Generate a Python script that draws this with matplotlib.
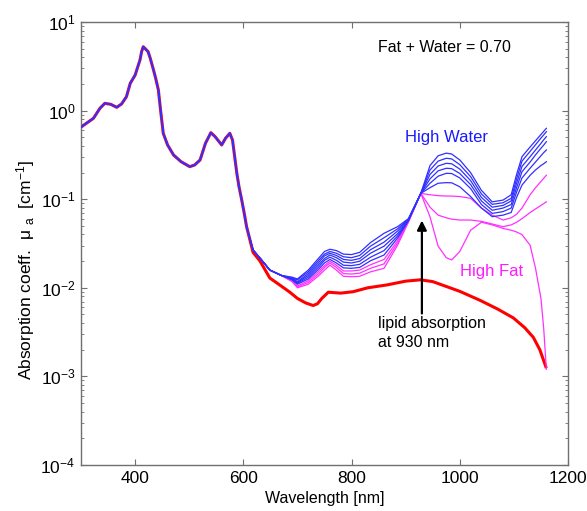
import numpy as np
import matplotlib
matplotlib.use("Agg")
import matplotlib.pyplot as plt
from matplotlib.ticker import NullLocator, LogLocator

plt.rcParams['font.family'] = ['Liberation Sans', 'DejaVu Sans']
plt.rcParams['mathtext.fontset'] = 'custom'
plt.rcParams['mathtext.rm'] = 'Liberation Sans'
plt.rcParams['mathtext.it'] = 'Liberation Sans:italic'
plt.rcParams['mathtext.default'] = 'regular'

# log10(mu_a)
# visible part, shared by every curve (red included)
wl_vis = [301, 310, 323, 335, 344, 355, 366, 375, 384, 391, 400, 404, 409,
          412, 415, 418, 424, 428, 434, 438, 443, 447, 452, 460, 471, 485,
          501, 510, 520, 530, 540, 548, 560, 567, 575, 580, 588, 592, 597,
          602, 606]
log_mu_vis = [-0.182, -0.143, -0.087, 0.026, 0.082, 0.071, 0.037, 0.075, 0.157,
              0.308, 0.40, 0.477, 0.571, 0.665, 0.721, 0.703, 0.665, 0.59,
              0.458, 0.365, 0.232, 0.007, -0.256, -0.388, -0.501, -0.577,
              -0.633, -0.614, -0.558, -0.369, -0.249, -0.295, -0.388, -0.313,
              -0.256, -0.332, -0.708, -0.859, -1.009, -1.17, -1.310]

# fat/water family: shared stretch, then one row per curve (high water -> high fat)
wl_fam_shared = [618, 631, 649, 670]
log_mu_fam_shared = [-1.574, -1.667, -1.80, -1.86]

wl_nir = [690, 700, 720, 740, 750, 760, 772, 785, 800, 815,
          835, 860, 885, 905, 928, 945, 960, 975, 985, 1000,
          1020, 1040, 1060, 1080, 1095, 1105, 1115, 1130, 1140, 1150,
          1155, 1160]
log_mu_nir = [
    [-1.88, -1.90, -1.80, -1.66, -1.59, -1.565, -1.58, -1.62, -1.625, -1.60,
     -1.49, -1.385, -1.31, -1.22, -0.934, -0.62, -0.51, -0.48, -0.49, -0.557,
     -0.70, -0.90, -1.03, -1.01, -0.95, -0.72, -0.52, -0.41, -0.34, -0.27,
     -0.235, -0.20],
    [-1.89, -1.91, -1.82, -1.685, -1.62, -1.59, -1.61, -1.65, -1.66, -1.635,
     -1.53, -1.435, -1.335, -1.225, -0.934, -0.67, -0.57, -0.538, -0.545, -0.61,
     -0.745, -0.94, -1.058, -1.04, -0.99, -0.77, -0.57, -0.46, -0.385, -0.31,
     -0.275, -0.238],
    [-1.89, -1.93, -1.84, -1.71, -1.64, -1.61, -1.635, -1.68, -1.69, -1.67,
     -1.57, -1.485, -1.36, -1.23, -0.934, -0.72, -0.625, -0.595, -0.60, -0.66,
     -0.79, -0.98, -1.09, -1.07, -1.02, -0.82, -0.63, -0.52, -0.445, -0.37,
     -0.33, -0.294],
    [-1.90, -1.94, -1.86, -1.735, -1.67, -1.63, -1.66, -1.71, -1.72, -1.70,
     -1.61, -1.53, -1.39, -1.235, -0.934, -0.77, -0.68, -0.651, -0.655, -0.71,
     -0.835, -1.02, -1.125, -1.10, -1.06, -0.87, -0.69, -0.58, -0.50, -0.425,
     -0.39, -0.351],
    [-1.90, -1.95, -1.88, -1.76, -1.69, -1.655, -1.69, -1.745, -1.75, -1.735,
     -1.655, -1.58, -1.415, -1.24, -0.934, -0.82, -0.74, -0.708, -0.71, -0.76,
     -0.88, -1.06, -1.16, -1.14, -1.10, -0.92, -0.76, -0.65, -0.58, -0.51,
     -0.475, -0.444],
    [-1.91, -1.96, -1.90, -1.785, -1.72, -1.68, -1.72, -1.775, -1.78, -1.77,
     -1.695, -1.63, -1.44, -1.245, -0.934, -0.87, -0.82, -0.813, -0.815, -0.86,
     -0.97, -1.10, -1.197, -1.18, -1.15, -0.98, -0.84, -0.73, -0.67, -0.62,
     -0.60, -0.577],
    [-1.92, -1.98, -1.92, -1.81, -1.75, -1.70, -1.745, -1.81, -1.81, -1.80,
     -1.74, -1.68, -1.47, -1.25, -0.934, -0.95, -0.96, -0.964, -0.965, -0.97,
     -0.99, -1.10, -1.18, -1.235, -1.21, -1.17, -1.10, -0.95, -0.87, -0.80,
     -0.765, -0.73],
    [-1.92, -1.99, -1.94, -1.835, -1.77, -1.72, -1.77, -1.84, -1.845, -1.835,
     -1.78, -1.73, -1.495, -1.255, -0.934, -1.09, -1.18, -1.21, -1.225, -1.235,
     -1.235, -1.25, -1.28, -1.31, -1.29, -1.26, -1.22, -1.15, -1.11, -1.07,
     -1.05, -1.03],
    [-1.93, -2.00, -1.96, -1.86, -1.80, -1.745, -1.80, -1.87, -1.875, -1.87,
     -1.82, -1.78, -1.52, -1.26, -0.934, -1.20, -1.53, -1.66, -1.686, -1.59,
     -1.35, -1.26, -1.29, -1.33, -1.35, -1.37, -1.40, -1.52, -1.78, -2.12,
     -2.45, -2.92],
]
fam_colors = ['#3030ff'] * 6 + ['#ff30ff'] * 3

# lipid curve, after it leaves the shared visible part
wl_red_tail = [618, 631, 649, 670, 686, 700, 715, 729, 737, 745, 757, 780,
               803, 830, 865, 900, 927, 950, 976, 1000, 1037, 1070, 1099,
               1120, 1136, 1148, 1159]
log_mu_red_tail = [-1.60, -1.70, -1.89, -1.98, -2.05, -2.12, -2.17, -2.20,
                   -2.18, -2.12, -2.05, -2.06, -2.044, -2.00, -1.968, -1.925,
                   -1.91, -1.93, -1.987, -2.04, -2.14, -2.24, -2.34, -2.45,
                   -2.56, -2.70, -2.89]

fig = plt.figure(figsize=(5.87, 5.11), dpi=100)
ax = fig.add_axes([81 / 587, 1 - 465 / 511, 487 / 587, 443 / 511])

# red lipid curve underneath
red_wl = np.array(wl_vis + wl_red_tail)
red_mu = 10 ** np.array(log_mu_vis + log_mu_red_tail)
ax.plot(red_wl, red_mu, color='#ff0000', lw=2.2, zorder=2)

fam_wl = np.array(wl_vis + wl_fam_shared + wl_nir)
for i in reversed(range(len(log_mu_nir))):
    mu = 10 ** np.array(log_mu_vis + log_mu_fam_shared + log_mu_nir[i])
    ax.plot(fam_wl, mu, color=fam_colors[i], lw=0.9, zorder=3)

ax.set_yscale('log')
ax.set_xlim(300, 1200)
ax.set_ylim(1e-4, 10)
ax.set_xticks([400, 600, 800, 1000, 1200])
ax.xaxis.set_minor_locator(NullLocator())
ax.yaxis.set_major_locator(LogLocator(base=10, numticks=10))
ax.yaxis.set_minor_locator(LogLocator(base=10, subs=np.arange(2, 10), numticks=10))

spine_col = '#707070'
for s in ax.spines.values():
    s.set_color(spine_col)
    s.set_linewidth(1.0)
ax.tick_params(which='both', direction='in', top=True, right=True,
               color=spine_col, labelsize=12.5, pad=4)
ax.tick_params(which='major', length=4)
ax.tick_params(which='minor', length=2.5)

ax.set_xlabel('Wavelength [nm]', fontsize=11.5, labelpad=4)
ax.set_ylabel('Absorption coeff.  μ $_{\\rm a}$  [cm$^{-1}$]', fontsize=12.5)
ax.yaxis.set_label_coords(-0.09, 0.44)

ax.text(848, 10 ** 0.707, 'Fat + Water = 0.70', fontsize=11.5, va='center', ha='left')
ax.text(899, 10 ** -0.30, 'High Water', fontsize=12, color='#1a1aff', va='center', ha='left')
ax.text(1000, 10 ** -1.82, 'High Fat', fontsize=12, color='#ff1aff', va='center', ha='left')
ax.text(849, 10 ** -2.51, 'lipid absorption\nat 930 nm', fontsize=11.5,
        va='center', ha='left', linespacing=1.3)
ax.annotate('', xy=(930, 10 ** -1.24), xytext=(930, 10 ** -2.29),
            arrowprops=dict(arrowstyle='-|>', color='black', lw=1.6,
                            mutation_scale=14, shrinkA=0, shrinkB=0))

fig.savefig('out.png', dpi=100)
